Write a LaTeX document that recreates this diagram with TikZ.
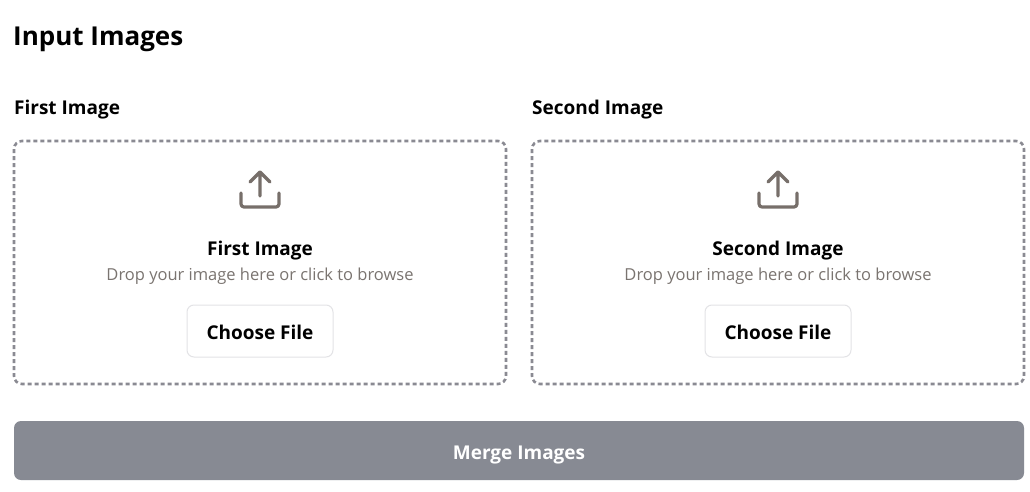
\documentclass[tikz,border=0pt]{standalone}
\usepackage{fontspec}
\setmainfont{Open Sans}
\definecolor{dash}{HTML}{8A8A92}
\definecolor{icon}{HTML}{776F6A}
\definecolor{sub}{HTML}{7A7470}
\definecolor{btn}{HTML}{878A93}
\definecolor{bord}{HTML}{E3E3E6}
\tikzset{
 drop/.style={draw=dash,line width=2.6pt,dash pattern=on 4pt off 3pt,rounded corners=8pt},
 ico/.style={draw=icon,line width=3.2pt,line cap=round,line join=round},
 t/.style={inner sep=0pt,anchor=base},
}
\begin{document}
\begin{tikzpicture}[x=1pt,y=-1pt]
\useasboundingbox[fill=white] (0,0) rectangle (1030,492);
\node[t,anchor=base west,font=\fontsize{26}{30}\selectfont\bfseries] (title) at (13,46) {Input Images};
\foreach \n/\xl/\lab in {a/14/First Image,b/532/Second Image}{
 \pgfmathsetmacro{\cx}{\xl+246}
 \node[t,anchor=base west,font=\fontsize{19}{22}\selectfont\bfseries] (lab\n) at (\xl,115) {\lab};
 \draw[drop] (\xl,141) rectangle ++(492,243);
 \node[inner sep=0pt] (box\n) at (\cx,262) {};
 \draw[ico] (\cx,196) -- (\cx,172) (\cx-10,182) -- (\cx,172) -- (\cx+10,182);
 \draw[ico,rounded corners=3pt] (\cx-19,193) -- (\cx-19,207) -- (\cx+19,207) -- (\cx+19,193);
 \node[t,font=\fontsize{19}{22}\selectfont\bfseries] (h\n) at (\cx,255) {\lab};
 \node[t,text=sub,font=\fontsize{16.5}{19}\selectfont] (s\n) at (\cx,280) {Drop your image here or click to browse};
 \draw[bord,line width=1pt,rounded corners=7pt] (\cx-73,305) rectangle (\cx+73,357);
 \node[t,font=\fontsize{19}{22}\selectfont\bfseries] (c\n) at (\cx,339) {Choose File};
}
\fill[btn,rounded corners=7pt] (14,421) rectangle (1024,480);
\node[t,text=white,font=\fontsize{19}{22}\selectfont\bfseries] (merge) at (519,459) {Merge Images};
\end{tikzpicture}
\end{document}
